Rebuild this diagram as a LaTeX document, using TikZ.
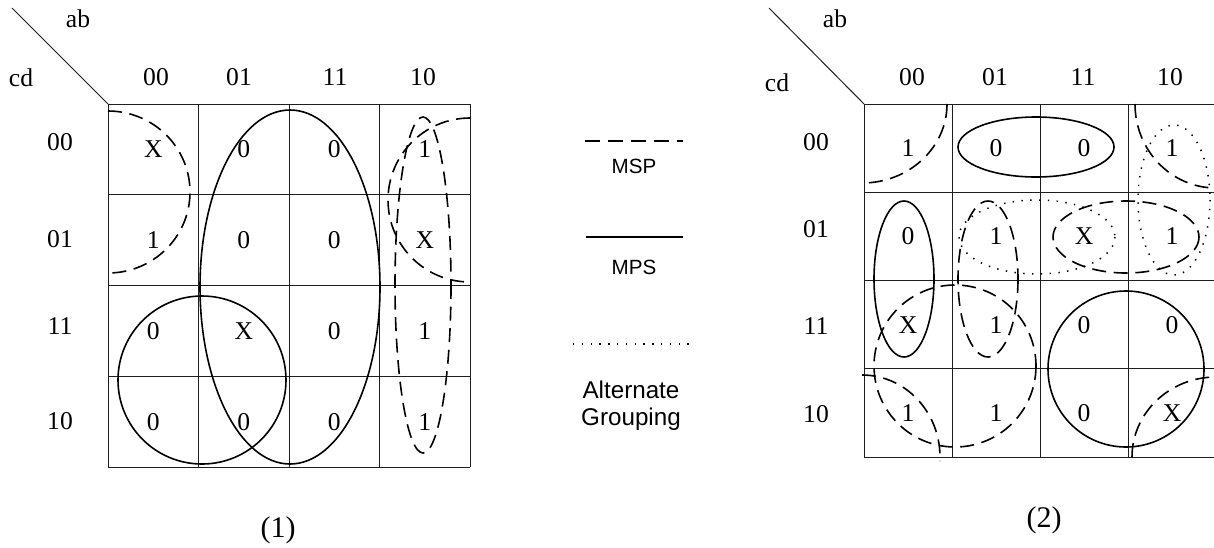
\documentclass[tikz,border=0pt]{standalone}
\usepackage{fontspec}
\setmainfont{Liberation Serif}
\newfontfamily\legendsans{Liberation Sans}
\definecolor{gridblack}{RGB}{30,30,30}
\definecolor{loopblack}{RGB}{0,0,0}
\usetikzlibrary{positioning}

\begin{document}
\begin{tikzpicture}[x=0.5pt,y=-0.5pt,
    gridline/.style={line width=0.5pt,color=gridblack},
    mspline/.style={line width=0.8pt,color=loopblack,dash pattern=on 7pt off 3.8pt},
    mpsline/.style={line width=0.8pt,color=loopblack},
    altline/.style={line width=0.75pt,color=loopblack,dash pattern=on 0.7pt off 3.7pt},
    maplabel/.style={font=\fontsize{12.8}{15}\selectfont,inner sep=0pt},
    caption/.style={font=\fontsize{15}{18}\selectfont,inner sep=0pt},
    legendtext/.style={font=\legendsans\fontsize{10.3}{12}\selectfont,inner sep=0pt}]
    \useasboundingbox (0,0) rectangle (1214,547);
    % map (1)
    \foreach \i in {0,...,4} {
      \draw[gridline] ({108+90.5*\i},104) -- ({108+90.5*\i},467);
      \draw[gridline] (108,{104+90.75*\i}) -- (470,{104+90.75*\i});
    }
    \draw[gridline] (12,8) -- (108,104);
    \node[maplabel] (ab1) at (78,19) {ab};
    \node[maplabel] (cd1) at (21,78) {cd};
    \foreach \t/\px in {00/156,01/239,11/335,10/423}
      \node[maplabel] (lc\t) at (\px,77) {\t};
    \foreach \t/\py in {00/142,01/239,11/326,10/421}
      \node[maplabel] (lr\t) at (60,\py) {\t};
    \foreach \row [count=\r] in {{X,0,0,1},{1,0,0,X},{0,X,0,1},{0,0,0,1}}
      \foreach \v [count=\c] in \row
        \node[maplabel] (l\r\c) at ({108+90.5*(\c-0.5)},{104+90.75*(\r-0.5)}) {\v};
    \draw[mspline] (108,111) arc[start angle=-90,end angle=90,x radius=82,y radius=81];
    \draw[mspline] (470,118) arc[start angle=270,end angle=90,radius=82];
    \draw[mspline] (423,285) ellipse[x radius=28,y radius=168];
    \draw[mpsline] (290,287) ellipse[x radius=90,y radius=177];
    \draw[mpsline] (202,380) circle[radius=84];
    \node[caption] (cap1) at (278,530) {(1)};
    % legend
    \draw[mspline,line width=1pt,dash pattern=on 7.5pt off 4pt] (585,141) -- (683,141);
    \node[legendtext] (msptext) at (634,166) {MSP};
    \draw[mpsline,line width=1pt] (586,237) -- (683,237);
    \node[legendtext] (mpstext) at (634,267) {MPS};
    \draw[altline] (573,344) -- (690,344);
    \node[legendtext,font=\legendsans\fontsize{12.1}{13.5}\selectfont,align=center]
      (alttext) at (631,406) {Alternate\\Grouping};
    % map (2)
    \foreach \i in {0,...,4} {
      \draw[gridline] ({864+88*\i},104) -- ({864+88*\i},457.2);
      \draw[gridline] (864,{104+88.3*\i}) -- (1216,{104+88.3*\i});
    }
    \draw[gridline] (769,8) -- (864,104);
    \node[maplabel] (ab2) at (835,19) {ab};
    \node[maplabel] (cd2) at (777,83) {cd};
    \foreach \t/\px in {00/912,01/995,11/1083,10/1170}
      \node[maplabel] (rc\t) at (\px,77) {\t};
    \foreach \t/\py in {00/142,01/229,11/326,10/414}
      \node[maplabel] (rr\t) at (816,\py) {\t};
    \foreach \row [count=\r] in {{1,0,0,1},{0,1,X,1},{X,1,0,0},{1,1,0,X}}
      \foreach \v [count=\c] in \row
        \node[maplabel] (r\r\c) at ({864+88*(\c-0.5)},{104+88.3*(\r-0.5)}) {\v};
    \draw[mspline] (947,104) arc[start angle=0,end angle=90,x radius=85,y radius=79];
    \draw[mspline] (1135,104) arc[start angle=180,end angle=90,x radius=81,y radius=84];
    \draw[mspline] (1132,457) arc[start angle=180,end angle=270,x radius=84,y radius=80];
    \draw[mspline] (862,375) arc[start angle=270,end angle=360,x radius=78,y radius=82] -- (940,461);
    \draw[mspline] (988,279) ellipse[x radius=30,y radius=78];
    \draw[mspline] (1126,237) ellipse[x radius=73,y radius=36];
    \draw[mspline] (955,366) circle[radius=81];
    \draw[mpsline] (1036,147) ellipse[x radius=78,y radius=30];
    \draw[mpsline] (904,279) ellipse[x radius=30,y radius=78];
    \draw[mpsline] (1126,369) circle[radius=78];
    \draw[altline] (1037,237) ellipse[x radius=78,y radius=37];
    \draw[altline] (1174,200) ellipse[x radius=36,y radius=75];
    \node[caption] (cap2) at (1044,520) {(2)};
\end{tikzpicture}
\end{document}
